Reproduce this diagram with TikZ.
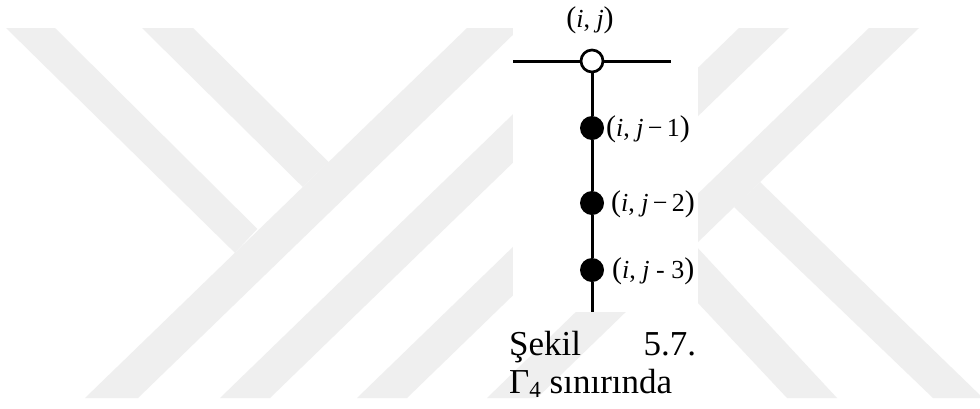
\documentclass[tikz,border=0pt]{standalone}
\usepackage{fontspec}
\setmainfont{Liberation Serif}
\definecolor{wmgray}{RGB}{239,239,239}
% coordinate label: large parentheses around a smaller body
\newcommand\gridpt[1]{{\fontsize{30}{30}\selectfont(}#1{\fontsize{30}{30}\selectfont)}}
\begin{document}
\begin{tikzpicture}[x=1pt,y=-1pt,
  band/.style={fill=wmgray,draw=none},
  wire/.style={line width=3pt,draw=black},
  openpt/.style={circle,draw=black,line width=2.7pt,fill=white,minimum size=22pt,inner sep=0pt},
  solidpt/.style={circle,fill=black,minimum size=24pt,inner sep=0pt},
  lbl/.style={font=\fontsize{26}{30}\selectfont,inner sep=0pt},
  captext/.style={font=\fontsize{35}{40}\selectfont,inner sep=0pt,anchor=base west}]

\useasboundingbox (0,0) rectangle (980,408);
\fill[white] (0,0) rectangle (980,408);

% background emblem stripes
\fill[band] (85,398) -- (138,398) -- (520,28) -- (467,28) -- cycle;
\fill[band] (6,28) -- (55,28) -- (257.3,228.9) -- (234.9,252.8) -- cycle;
\fill[band] (142,28) -- (193,28) -- (328.6,162) -- (302.8,187) -- cycle;
\fill[band] (220,398) -- (270,398) -- (652,28) -- (602,28) -- cycle;
\fill[band] (357,398) -- (407,398) -- (789,28) -- (739,28) -- cycle;
\fill[band] (487,398) -- (537,398) -- (919,28) -- (869,28) -- cycle;
\fill[band] (734,207) -- (760,182) -- (983,398) -- (933,398) -- cycle;
\fill[band] (668,271) -- (695,245) -- (837,398) -- (787,398) -- cycle;

% white panel behind the stencil
\fill[white] (513,0) rectangle (698,312);

% stencil points
\node[openpt] (p0) at (592,61) {};
\node[solidpt] (p1) at (592,128) {};
\node[solidpt] (p2) at (592,203) {};
\node[solidpt] (p3) at (592,270) {};
\coordinate (hl) at (513,61);
\coordinate (hr) at (671,61);
\coordinate (vb) at (592,312);

\draw[wire] (hl) -- (p0);
\draw[wire] (p0) -- (hr);
\draw[wire] (p0) -- (p1);
\draw[wire] (p1) -- (p2);
\draw[wire] (p2) -- (p3);
\draw[wire] (p3) -- (vb);

% point labels
\node[lbl] (l0) at (590,20) {\gridpt{\textit{i}, \textit{j}}};
\node[lbl,anchor=west] (l1) at (606,129) {\gridpt{\textit{i}, \textit{j}\,−\,1}};
\node[lbl,anchor=west] (l2) at (611,204) {\gridpt{\textit{i}, \textit{j}\,−\,2}};
\node[lbl,anchor=west] (l3) at (612,271) {\gridpt{\textit{i}, \textit{j} - 3}};

% caption lines
\node[captext] (c1) at (509,355) {\makebox[187pt][s]{Şekil\hfill 5.7.}};
\node[captext] (c2) at (509,393) {Γ\raisebox{-0.3ex}{\fontsize{23}{23}\selectfont 4} sınırında};
\end{tikzpicture}
\end{document}
